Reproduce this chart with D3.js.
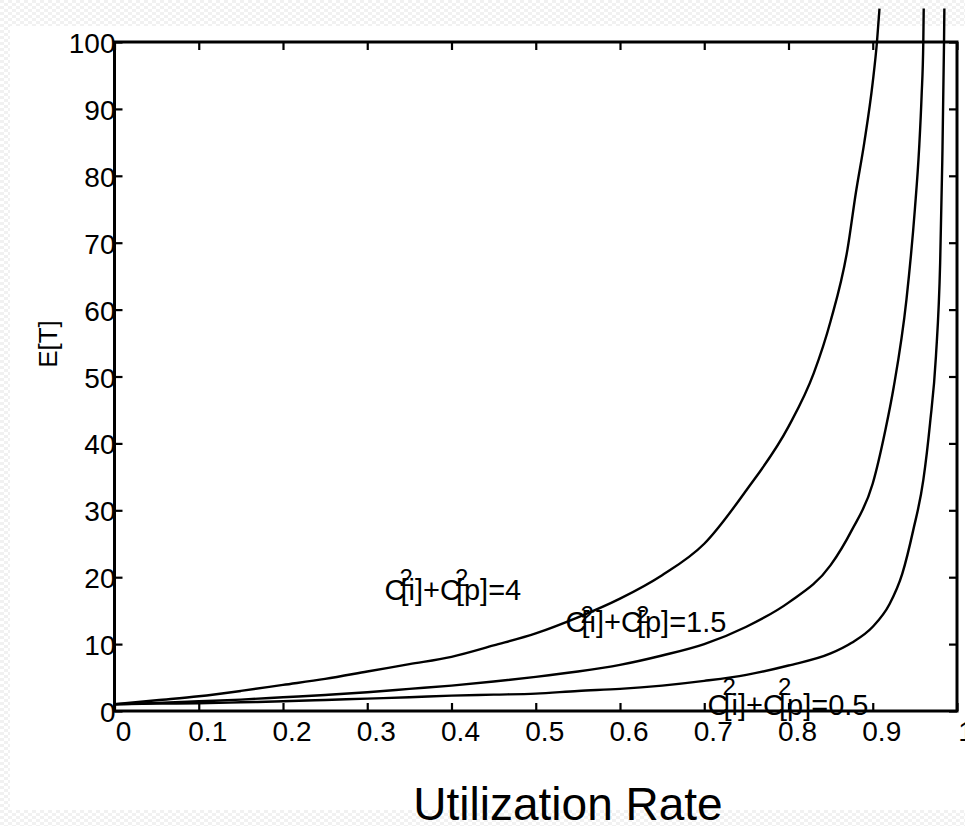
<!DOCTYPE html>
<html>
<head>
<meta charset="utf-8">
<script src="https://cdn.jsdelivr.net/npm/d3@7"></script>
<style>
  html, body { margin: 0; padding: 0; background: #fff; }
  svg { display: block; font-family: Arial, "Liberation Sans", sans-serif; }
</style>
</head>
<body>
<svg id="chart" width="965" height="826"></svg>
<script>
// ---- data ----
const xTicks = [0, 0.1, 0.2, 0.3, 0.4, 0.5, 0.6, 0.7, 0.8, 0.9, 1];
const xTickLabels = ["0", "0.1", "0.2", "0.3", "0.4", "0.5", "0.6", "0.7", "0.8", "0.9", "1"];
const yTicks = [0, 10, 20, 30, 40, 50, 60, 70, 80, 90, 100];
const yTickLabels = ["0", "10", "20", "30", "40", "50", "60", "70", "80", "90", "100"];

// C^2[i]+C^2[p] = 4
const rho4 = [0, 0.05, 0.1, 0.15, 0.2, 0.25, 0.3, 0.35, 0.4, 0.45, 0.5, 0.55, 0.6, 0.65, 0.7, 0.75, 0.8, 0.83, 0.85, 0.87, 0.88, 0.89, 0.9, 0.905, 0.908];
const et4  = [1.0, 1.6, 2.2, 3.0, 3.9, 4.8, 5.9, 7.0, 8.1, 9.8, 11.6, 14.0, 16.8, 20.3, 25.0, 33.0, 42.5, 50.5, 58.3, 69.0, 77.5, 85.0, 94.0, 100.0, 105.0];

// C^2[i]+C^2[p] = 1.5
const rho15 = [0, 0.05, 0.1, 0.15, 0.2, 0.25, 0.3, 0.35, 0.4, 0.45, 0.5, 0.55, 0.6, 0.65, 0.7, 0.75, 0.8, 0.85, 0.875, 0.9, 0.915, 0.925, 0.94, 0.95, 0.955, 0.958, 0.96, 0.9605];
const et15  = [1.0, 1.2, 1.45, 1.7, 2.05, 2.4, 2.8, 3.3, 3.8, 4.4, 5.1, 5.9, 6.9, 8.3, 10.0, 12.6, 16.2, 21.8, 27.0, 34.0, 42.0, 48.5, 61.5, 75.0, 84.0, 92.0, 100.0, 105.0];

// C^2[i]+C^2[p] = 0.5
const rho05 = [0, 0.05, 0.1, 0.15, 0.2, 0.25, 0.3, 0.35, 0.4, 0.45, 0.5, 0.55, 0.6, 0.65, 0.7, 0.75, 0.8, 0.85, 0.875, 0.9, 0.92, 0.935, 0.948, 0.96, 0.968, 0.975, 0.98, 0.9825, 0.9846, 0.985];
const et05  = [1.0, 1.1, 1.15, 1.3, 1.45, 1.65, 1.85, 2.05, 2.3, 2.45, 2.6, 3.0, 3.3, 3.8, 4.5, 5.4, 6.8, 8.6, 10.2, 12.6, 16.0, 20.5, 27.0, 34.5, 43.0, 53.0, 67.0, 82.0, 100.0, 105.0];

// curve labels: value text and anchor point in data coordinates
const labelValues = ["4", "1.5", "0.5"];
const labelRho = [0.3205, 0.5353, 0.7039];
const labelET = [16.6, 11.85, -0.6];

const xTitle = "Utilization Rate";
const yTitle = "E[T]";

// ---- drawing ----
(function () {
const svg = d3.select("#chart");
const W = 965, H = 826;

// faint checker border like the reference background
const defs = svg.append("defs");
const pat = defs.append("pattern").attr("id", "chk").attr("patternUnits", "userSpaceOnUse")
  .attr("width", 8).attr("height", 6);
pat.append("rect").attr("x", 0).attr("y", 0).attr("width", 4).attr("height", 3).attr("fill", "#f1f1f1");
pat.append("rect").attr("x", 4).attr("y", 3).attr("width", 4).attr("height", 3).attr("fill", "#f1f1f1");
svg.append("rect").attr("width", W).attr("height", H).attr("fill", "url(#chk)");
svg.append("rect").attr("x", 10).attr("y", 26).attr("width", W - 10).attr("height", 784).attr("fill", "#fff");

const pL = 114.5, pR = 957, pT = 42, pB = 711;
const x = d3.scaleLinear().domain([0, 1]).range([pL, pR]);
const y = d3.scaleLinear().domain([0, 100]).range([pB, pT]);

// plot box
svg.append("rect").attr("x", pL).attr("y", pT).attr("width", pR - pL).attr("height", pB - pT)
  .attr("fill", "#fff");

// axes with inward ticks
const tickLen = 8;
const axB = svg.append("g").attr("transform", `translate(0,${pB})`)
  .call(d3.axisTop(x).tickValues(xTicks).tickSize(tickLen).tickFormat(""));
const axT = svg.append("g").attr("transform", `translate(0,${pT})`)
  .call(d3.axisBottom(x).tickValues(xTicks).tickSize(tickLen).tickFormat(""));
const axL = svg.append("g").attr("transform", `translate(${pL},0)`)
  .call(d3.axisRight(y).tickValues(yTicks).tickSize(tickLen).tickFormat(""));
const axR = svg.append("g").attr("transform", `translate(${pR},0)`)
  .call(d3.axisLeft(y).tickValues(yTicks).tickSize(tickLen).tickFormat(""));
[axB, axT, axL, axR].forEach(g => {
  g.select(".domain").remove();
  g.selectAll(".tick line").attr("stroke", "#000").attr("stroke-width", 2.2);
});
svg.append("rect").attr("x", pL).attr("y", pT).attr("width", pR - pL).attr("height", pB - pT)
  .attr("fill", "none").attr("stroke", "#000").attr("stroke-width", 3);

// tick labels
svg.append("g").selectAll("text").data(xTicks).join("text")
  .attr("x", d => x(d) + 9).attr("y", 741)
  .attr("text-anchor", "middle").attr("font-size", 28).attr("fill", "#000")
  .text((d, i) => xTickLabels[i]);
svg.append("g").selectAll("text").data(yTicks).join("text")
  .attr("x", pL + 1).attr("y", d => y(d) + 11)
  .attr("text-anchor", "end").attr("font-size", 28).attr("fill", "#000")
  .text((d, i) => yTickLabels[i]);

// curves
const line = d3.line().x(d => x(d[0])).y(d => y(d[1])).curve(d3.curveMonotoneX);
const series = [d3.zip(rho4, et4), d3.zip(rho15, et15), d3.zip(rho05, et05)];
svg.append("g").selectAll("path").data(series).join("path")
  .attr("d", line).attr("fill", "none").attr("stroke", "#000")
  .attr("stroke-width", 2.4).attr("stroke-linejoin", "round");

// curve labels (superscript 2 overlapping like the original)
const supShift = [14, 9, 20];
const supSize = 24, supAdv = 0.556 * 24;
labelValues.forEach((v, i) => {
  const t = svg.append("text").attr("x", x(labelRho[i])).attr("y", y(labelET[i]))
    .attr("font-size", 29).attr("fill", "#000");
  t.append("tspan").text("C");
  t.append("tspan").attr("font-size", supSize).attr("dx", -6).attr("dy", -supShift[i]).text("2");
  t.append("tspan").attr("dx", -supAdv + 1).attr("dy", supShift[i]).text("[i]+C");
  t.append("tspan").attr("font-size", supSize).attr("dx", -6).attr("dy", -supShift[i]).text("2");
  t.append("tspan").attr("dx", -supAdv + 1).attr("dy", supShift[i]).text("[p]=" + v);
});

// axis titles
svg.append("text").attr("x", 568).attr("y", 820).attr("text-anchor", "middle")
  .attr("font-size", 46).attr("fill", "#000").text(xTitle);
svg.append("text").attr("transform", "translate(57,344) rotate(-90)").attr("text-anchor", "middle")
  .attr("font-size", 26).attr("fill", "#000").text(yTitle);
})();
</script>
</body>
</html>
